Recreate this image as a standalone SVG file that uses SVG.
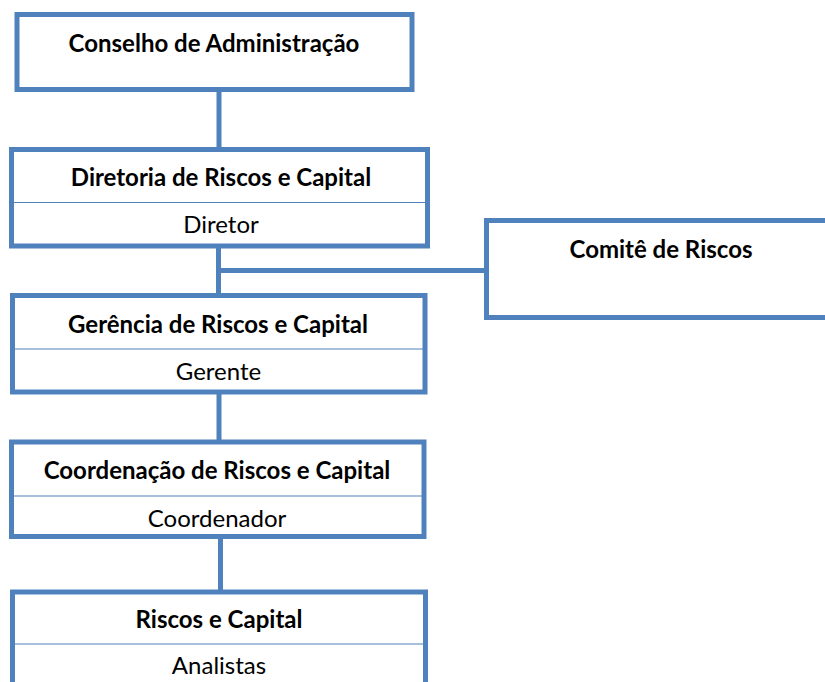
<svg xmlns="http://www.w3.org/2000/svg" width="825" height="682" viewBox="0 0 825 682">
<style>
.box{fill:#fff;stroke:#4F81BD;stroke-width:5}
.div{stroke:#4F81BD;stroke-width:1.2}
.conn{stroke:#4F81BD;stroke-width:5;fill:none}
.t{font-family:Lato,"Liberation Sans",sans-serif;font-size:24px;fill:#000;text-anchor:middle}
.b{font-weight:bold}
</style>
<rect width="825" height="682" fill="#fff"/>
<g id="connectors">
<line class="conn" x1="219" y1="91" x2="219" y2="149"/>
<line class="conn" x1="218.5" y1="247" x2="218.5" y2="296"/>
<line class="conn" x1="218.5" y1="270.5" x2="487" y2="270.5"/>
<line class="conn" x1="219" y1="393" x2="219" y2="442"/>
<line class="conn" x1="220.5" y1="538" x2="220.5" y2="592"/>
</g>
<g id="conselho">
<rect class="box" x="17" y="14.5" width="395" height="75"/>
<text class="t b" x="214" y="52">Conselho de Administração</text>
</g>
<g id="diretoria">
<rect class="box" x="11.5" y="149.5" width="416" height="96.5"/>
<line class="div" x1="14" y1="202.5" x2="425" y2="202.5"/>
<text class="t b" x="221" y="186">Diretoria de Riscos e Capital</text>
<text class="t" x="221" y="233">Diretor</text>
</g>
<g id="comite">
<rect class="box" x="486.5" y="220.5" width="345" height="97"/>
<text class="t b" x="661" y="258">Comitê de Riscos</text>
</g>
<g id="gerencia">
<rect class="box" x="12.5" y="295.5" width="412.5" height="96.5"/>
<line class="div" x1="15" y1="349" x2="423" y2="349"/>
<text class="t b" x="218" y="333">Gerência de Riscos e Capital</text>
<text class="t" x="218.5" y="380">Gerente</text>
</g>
<g id="coordenacao">
<rect class="box" x="11.5" y="442" width="412.5" height="94.5"/>
<line class="div" x1="14" y1="496" x2="422" y2="496"/>
<text class="t b" x="217" y="479">Coordenação de Riscos e Capital</text>
<text class="t" x="217" y="527">Coordenador</text>
</g>
<g id="riscos">
<rect class="box" x="12.5" y="592" width="413" height="110"/>
<line class="div" x1="15" y1="644" x2="423" y2="644"/>
<text class="t b" x="219" y="628">Riscos e Capital</text>
<text class="t" x="219" y="674">Analistas</text>
</g>
</svg>
